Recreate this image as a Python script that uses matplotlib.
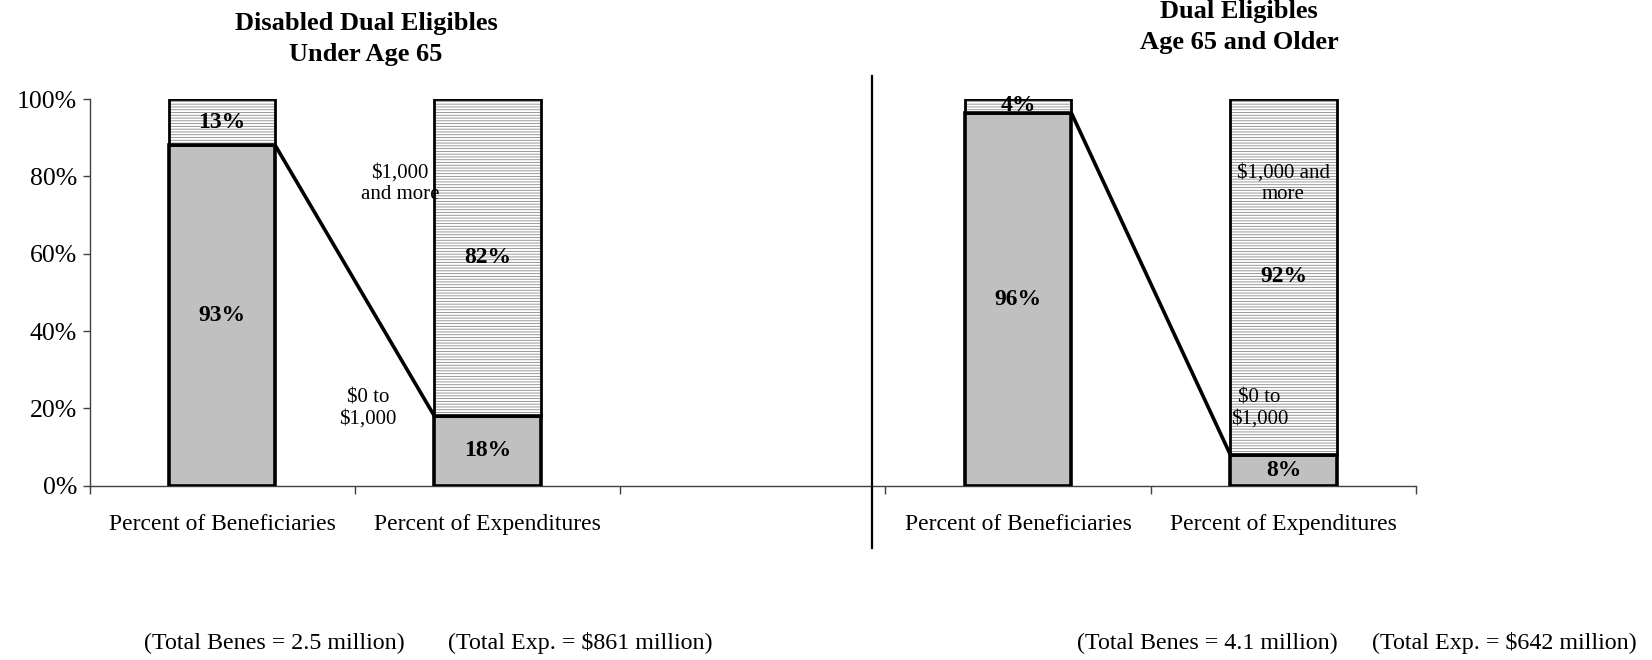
import matplotlib
matplotlib.use("Agg")

import numpy as np
import matplotlib.pyplot as plt
from matplotlib.lines import Line2D

plt.rcParams["font.family"] = ["Liberation Serif", "DejaVu Serif"]
plt.rcParams["hatch.linewidth"] = 0.6

# data (bars are drawn at the plotted heights,
# labels are the printed ones)
categories = ["Percent of Beneficiaries", "Percent of Expenditures", "",
              "Percent of Beneficiaries", "Percent of Expenditures"]
bar_slots = [0, 1, 3, 4]
low_share = [88, 18, 96.5, 8]       # $0 to $1,000 (gray)
high_share = [12, 82, 3.5, 92]      # $1,000 and more (hatched)
low_labels = ["93%", "18%", "96%", "8%"]
high_labels = ["13%", "82%", "4%", "92%"]
titles = ["Disabled Dual Eligibles\nUnder Age 65", "Dual Eligibles\nAge 65 and Older"]
totals = ["(Total Benes = 2.5 million)", "(Total Exp. = $861 million)",
          "(Total Benes = 4.1 million)", "(Total Exp. = $642 million)"]
y_ticks = [0, 20, 40, 60, 80, 100]

gray = "#C0C0C0"
width = 0.4

fig = plt.figure(figsize=(16.52, 6.6), dpi=100)
ax = fig.add_axes([0.0542, 0.264, 0.803, 0.586])

xc = np.array(bar_slots) + 0.5
lo = np.array(low_share)
hi = np.array(high_share)

# fills
ax.bar(xc, lo, width=width, color=gray, linewidth=0, zorder=2)
ax.bar(xc, hi, width=width, bottom=lo, color="white", edgecolor="#8a8a8a",
       hatch="------", linewidth=0, zorder=2)
# outlines
ax.bar(xc, lo, width=width, fill=False, edgecolor="black", linewidth=2.6, zorder=3)
ax.bar(xc, hi, width=width, bottom=lo, fill=False, edgecolor="black",
       linewidth=2.0, zorder=3)

for i in range(len(xc)):
    ax.text(xc[i], lo[i] / 2, low_labels[i], ha="center", va="center",
            fontsize=17, fontweight="bold", zorder=4)
    ax.text(xc[i], lo[i] + hi[i] / 2, high_labels[i], ha="center", va="center",
            fontsize=17, fontweight="bold", zorder=4)

# connector lines between beneficiary and expenditure bars
for a, b in [(0, 1), (2, 3)]:
    ax.plot([xc[a] + width / 2, xc[b] - width / 2], [lo[a], lo[b]],
            color="black", linewidth=2.6, zorder=4, solid_capstyle="butt")

# range annotations
ax.text(1.17, 78, "$1,000\nand more", ha="center", va="center", fontsize=15,
        linespacing=1.2, zorder=5)
ax.text(1.05, 20, "$0 to\n$1,000", ha="center", va="center", fontsize=15,
        linespacing=1.2, zorder=5)
ax.text(4.5, 78, "$1,000 and\nmore", ha="center", va="center", fontsize=15,
        linespacing=1.2, zorder=5)
ax.text(4.41, 20, "$0 to\n$1,000", ha="center", va="center", fontsize=15,
        linespacing=1.2, zorder=5)

ax.set_xlim(0, 5)
ax.set_ylim(0, 100)
ax.set_yticks(y_ticks)
ax.set_yticklabels([f"{v}%" for v in y_ticks], fontsize=18.5)
ax.tick_params(axis="y", length=5, width=1, color="#404040", pad=4)

ax.set_xticks(np.arange(5) + 0.5)
ax.set_xticklabels(categories, fontsize=17)
ax.set_xticks(np.arange(6), minor=True)
ax.tick_params(axis="x", which="major", length=0, pad=20)
ax.tick_params(axis="x", which="minor", length=6, width=1, color="#404040")

for s in ["top", "right"]:
    ax.spines[s].set_visible(False)
for s in ["left", "bottom"]:
    ax.spines[s].set_color("#404040")
    ax.spines[s].set_linewidth(1)

# titles
fig.text(366 / 1652, 1 - 39 / 660, titles[0], ha="center", va="center",
         fontsize=19, fontweight="bold", linespacing=1.4)
fig.text(1239 / 1652, 1 - 27 / 660, titles[1], ha="center", va="center",
         fontsize=19, fontweight="bold", linespacing=1.4)

# divider
fig.add_artist(Line2D([872 / 1652, 872 / 1652], [1 - 76 / 660, 1 - 548 / 660],
                      color="black", linewidth=1.6, transform=fig.transFigure))

# totals
for xpos, txt in zip([274, 580.5, 1207, 1504.5], totals):
    fig.text(xpos / 1652, 1 - 643 / 660, txt, ha="center", va="center", fontsize=17.3)

plt.savefig("out.png", dpi=100)
